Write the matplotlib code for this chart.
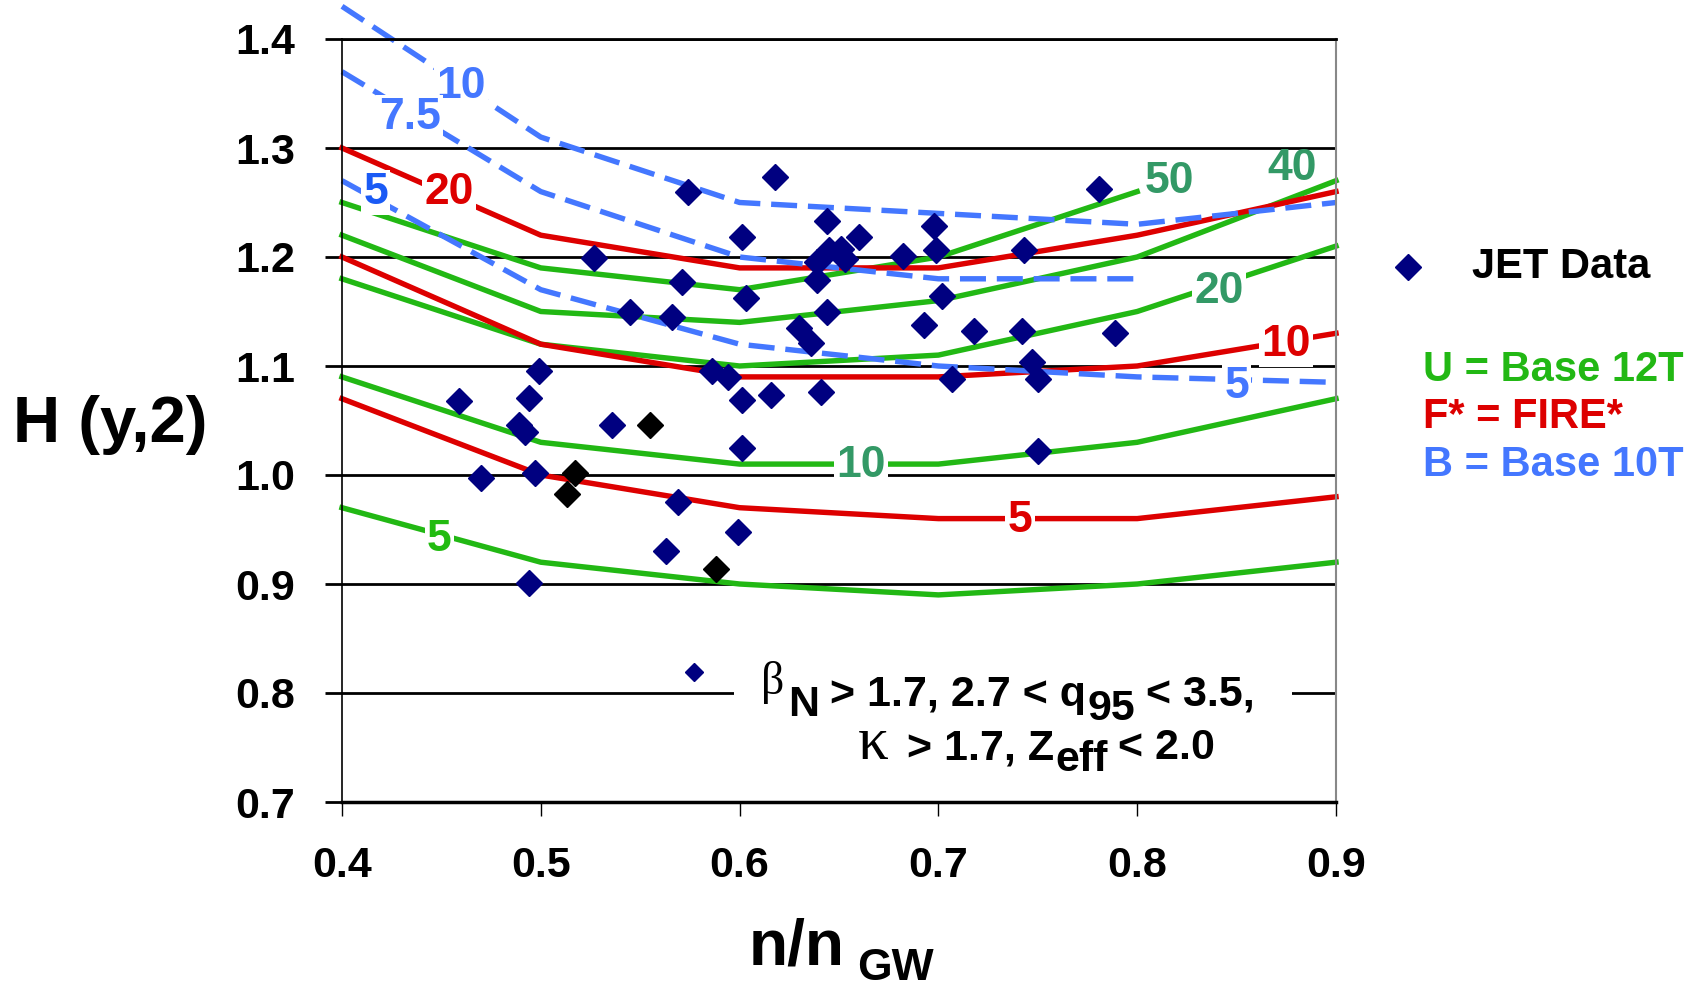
import numpy as np
import matplotlib
matplotlib.use('Agg')
import matplotlib.pyplot as plt
from matplotlib.lines import Line2D
from matplotlib.patches import Rectangle

plt.rcParams['font.family'] = ['Liberation Sans', 'DejaVu Sans']
plt.rcParams['font.weight'] = 'bold'

# ---- data ----
x_grid = [0.4, 0.5, 0.6, 0.7, 0.8, 0.9]

# Base 12T (green)
u50 = [1.25, 1.19, 1.17, 1.20, 1.26]          # stops at 0.8
u40 = [1.22, 1.15, 1.14, 1.16, 1.20, 1.27]
u20 = [1.18, 1.12, 1.10, 1.11, 1.15, 1.21]
u10 = [1.09, 1.03, 1.01, 1.01, 1.03, 1.07]
u5 = [0.97, 0.92, 0.90, 0.89, 0.90, 0.92]

# FIRE* (red)
f20 = [1.30, 1.22, 1.19, 1.19, 1.22, 1.26]
f10 = [1.20, 1.12, 1.09, 1.09, 1.10, 1.13]
f5 = [1.07, 1.00, 0.97, 0.96, 0.96, 0.98]

# Base 10T (blue, dashed)
b10 = [1.43, 1.31, 1.25, 1.24, 1.23, 1.25]
b75 = [1.37, 1.26, 1.20, 1.18, 1.18]           # stops at 0.8
b5 = [1.27, 1.17, 1.12, 1.10, 1.09, 1.085]

# JET data
jet_x = [0.527, 0.571, 0.545, 0.566, 0.586, 0.594, 0.499, 0.459, 0.494, 0.489,
         0.492, 0.536, 0.470, 0.497, 0.569, 0.563, 0.494, 0.574,
         0.618, 0.601, 0.644, 0.660, 0.645, 0.651, 0.653, 0.639, 0.639, 0.603,
         0.644, 0.630, 0.636, 0.601, 0.616, 0.641, 0.601, 0.599,
         0.781, 0.698, 0.699, 0.682, 0.743, 0.702, 0.693, 0.718, 0.742, 0.789,
         0.747, 0.750, 0.707, 0.750]
jet_y = [1.199, 1.177, 1.150, 1.145, 1.095, 1.090, 1.095, 1.068, 1.071, 1.046,
         1.039, 1.046, 0.997, 1.002, 0.975, 0.930, 0.901, 1.260,
         1.273, 1.218, 1.233, 1.218, 1.206, 1.207, 1.198, 1.195, 1.179, 1.162,
         1.150, 1.135, 1.121, 1.069, 1.073, 1.076, 1.025, 0.948,
         1.262, 1.228, 1.206, 1.201, 1.206, 1.164, 1.138, 1.132, 1.132, 1.130,
         1.104, 1.088, 1.088, 1.022]
jet_black_x = [0.555, 0.517, 0.513, 0.588]
jet_black_y = [1.046, 1.002, 0.983, 0.914]
note_key = (0.577, 0.819)

# curve labels: text, x, y, colour, cuts the lines under it
curve_labels = [
    ('10', 0.460, 1.356, '#4477ff', True),
    ('7.5', 0.434, 1.328, '#4477ff', True),
    ('5', 0.417, 1.259, '#1a5af5', True),
    ('20', 0.454, 1.259, '#dd0000', True),
    ('50', 0.816, 1.269, '#339966', False),
    ('40', 0.878, 1.281, '#339966', False),
    ('20', 0.841, 1.168, '#339966', True),
    ('10', 0.875, 1.120, '#dd0000', True),
    ('5', 0.850, 1.081, '#4477ff', True),
    ('10', 0.661, 1.009, '#339966', True),
    ('5', 0.741, 0.958, '#dd0000', True),
    ('5', 0.449, 0.941, '#22bb11', True),
]

GREEN = '#22b814'
RED = '#dd0000'
BLUE = '#4477ff'
NAVY = '#000080'

W, H = 1698, 992
fig = plt.figure(figsize=(W / 100, H / 100), dpi=100)
ax = fig.add_axes([342 / W, 1 - 802 / H, (1336 - 342) / W, (802 - 39) / H])

lw = 3.9
for ys in (u50, u40, u20, u10, u5):
    ax.plot(x_grid[:len(ys)], ys, color=GREEN, lw=lw, zorder=2, clip_on=False)
for ys in (f20, f10, f5):
    ax.plot(x_grid[:len(ys)], ys, color=RED, lw=lw, zorder=2, clip_on=False)
for ys in (b10, b75, b5):
    ax.plot(x_grid[:len(ys)], ys, color=BLUE, lw=lw, ls=(0, (4.8, 2.0)),
            zorder=2, clip_on=False)

for s, x, y, c, cut in curve_labels:
    box = dict(fc='white', ec='none', pad=1.5) if cut else None
    ax.text(x, y, s, color=c, fontsize=32, fontweight='bold', ha='center',
            va='center', zorder=3, bbox=box)

ax.plot(jet_x, jet_y, 'D', color=NAVY, ms=13.5, mec=NAVY, ls='none', zorder=5)
ax.plot(jet_black_x, jet_black_y, 'D', color='black', ms=13.5, ls='none', zorder=5)

# note with its key marker
ax.add_patch(Rectangle((0.597, 0.72), 0.281, 0.11, fc='white', ec='none', zorder=1))
ax.plot([note_key[0]], [note_key[1]], 'D', color=NAVY, ms=9, zorder=5)

ax.set_xlim(0.4, 0.9)
ax.set_ylim(0.7, 1.4)
ax.set_xticks(x_grid)
ax.set_xticklabels(['%.1f' % v for v in x_grid])
yt = [0.7, 0.8, 0.9, 1.0, 1.1, 1.2, 1.3, 1.4]
ax.set_yticks(yt)
ax.set_yticklabels(['%.1f' % v for v in yt])
ax.tick_params(axis='y', direction='out', length=12, width=2, pad=22, labelsize=31)
ax.tick_params(axis='x', direction='out', length=10, width=1, pad=22, labelsize=31)
ax.set_axisbelow(True)
ax.yaxis.grid(True, color='black', lw=2)
ax.spines['left'].set_linewidth(1.2)
ax.spines['bottom'].set_linewidth(2.5)
ax.spines['top'].set_linewidth(2)
ax.spines['right'].set_color('#888888')
ax.spines['right'].set_linewidth(1.5)

renderer = fig.canvas.get_renderer()


def text_row(x, pieces):
    # pieces: (text, baseline px from top, size, family, extra gap px)
    for s, base, size, fam, gap in pieces:
        x += gap
        t = fig.text(x / W, 1 - base / H, s, fontsize=size, family=fam,
                     fontweight='normal' if 'Serif' in fam else 'bold',
                     ha='left', va='baseline')
        x += t.get_window_extent(renderer).width
    return x


sans = 'Liberation Sans'
serif = 'Liberation Serif'
text_row(761, [('β', 694, 33, serif, 0), ('N', 716, 31, sans, 4),
               ('> 1.7, 2.7 < q', 706, 31, sans, 11), ('95', 720, 31, sans, 1),
               ('< 3.5,', 706, 31, sans, 11)])
text_row(858, [('κ', 759, 44, serif, 0), ('> 1.7, Z', 759, 31, sans, 18),
               ('eff', 771, 31, sans, 1), ('< 2.0', 759, 31, sans, 11)])

# axis titles
fig.text(13 / W, 1 - 442 / H, 'H (y,2)', fontsize=47, fontweight='bold',
         ha='left', va='baseline')
text_row(749, [('n/n', 965, 46, sans, 0), ('GW', 980, 32, sans, 12)])

# legend on the right
fig.add_artist(Line2D([1408 / W], [1 - 267 / H], marker='D', ms=13.5, color=NAVY,
                      ls='none', transform=fig.transFigure))
fig.text(1472 / W, 1 - 267 / H, 'JET Data', fontsize=30, fontweight='bold',
         va='center', ha='left')
fig.text(1423 / W, 1 - 370 / H, 'U = Base 12T', fontsize=30, fontweight='bold',
         color=GREEN, va='center', ha='left')
fig.text(1423 / W, 1 - 417 / H, 'F* = FIRE*', fontsize=30, fontweight='bold',
         color=RED, va='center', ha='left')
fig.text(1423 / W, 1 - 465 / H, 'B = Base 10T', fontsize=30, fontweight='bold',
         color=BLUE, va='center', ha='left')

fig.savefig('out.png', dpi=100)
